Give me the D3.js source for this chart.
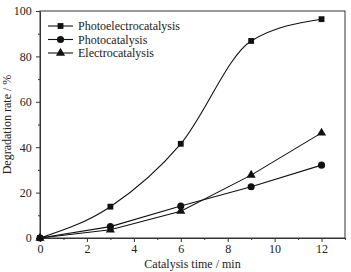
<!DOCTYPE html>
<html>
<head>
<meta charset="utf-8">
<script src="https://cdn.jsdelivr.net/npm/d3@7"></script>
<style>
  body { margin: 0; background: #fff; }
  text { font-family: "Liberation Serif", "DejaVu Serif", serif; fill: #222; }
</style>
</head>
<body>
<div id="wrapper"></div>
<script>
// data
const times = [0, 3, 6, 9, 12]
const photoelectro = [0, 13.8, 41.5, 86.8, 96.4]
const photo = [0, 5.0, 14.1, 22.6, 32.1]
const electro = [0, 3.6, 11.8, 27.7, 46.3]
const seriesNames = ["Photoelectrocatalysis", "Photocatalysis", "Electrocatalysis"]
const xTicks = [0, 2, 4, 6, 8, 10, 12]
const yTicks = [0, 20, 40, 60, 80, 100]

const dimensions = {
  width: 351,
  height: 272,
  margin: { top: 11, right: 6, bottom: 34, left: 40 },
}
dimensions.boundedWidth = dimensions.width - dimensions.margin.left - dimensions.margin.right
dimensions.boundedHeight = dimensions.height - dimensions.margin.top - dimensions.margin.bottom

const svg = d3.select("#wrapper").append("svg")
  .attr("width", dimensions.width)
  .attr("height", dimensions.height)

const bounds = svg.append("g")
  .attr("transform", `translate(${dimensions.margin.left},${dimensions.margin.top})`)

const xScale = d3.scaleLinear().domain([0, 13]).range([0, dimensions.boundedWidth])
const yScale = d3.scaleLinear().domain([0, 100]).range([dimensions.boundedHeight, 0])

// frame
bounds.append("rect")
  .attr("width", dimensions.boundedWidth)
  .attr("height", dimensions.boundedHeight)
  .attr("fill", "none")
  .attr("stroke", "#333")
  .attr("stroke-width", 1)

// axes
const xAxis = bounds.append("g")
  .attr("transform", `translate(0,${dimensions.boundedHeight})`)
  .call(d3.axisBottom(xScale).tickValues(xTicks).tickSize(4).tickPadding(2).tickSizeOuter(0))
const yAxis = bounds.append("g")
  .call(d3.axisLeft(yScale).tickValues(yTicks).tickSize(4).tickSizeOuter(0))

// minor ticks
bounds.append("g")
  .attr("transform", `translate(0,${dimensions.boundedHeight})`)
  .call(d3.axisBottom(xScale).tickValues([1, 3, 5, 7, 9, 11, 13]).tickSize(2).tickFormat("").tickSizeOuter(0))
  .select(".domain").remove()
bounds.append("g")
  .call(d3.axisLeft(yScale).tickValues([10, 30, 50, 70, 90]).tickSize(2).tickFormat("").tickSizeOuter(0))
  .select(".domain").remove()

bounds.selectAll(".domain").attr("stroke", "#333")
bounds.selectAll(".tick line").attr("stroke", "#333")
xAxis.selectAll("text").attr("font-size", 12)
yAxis.selectAll("text").attr("font-size", 12).attr("dx", "-0.1em")

// axis titles
svg.append("text")
  .attr("x", dimensions.margin.left + xScale(6.5))
  .attr("y", 268)
  .attr("text-anchor", "middle")
  .attr("font-size", 12)
  .text("Catalysis time / min")

svg.append("text")
  .attr("transform", `translate(11,${dimensions.margin.top + yScale(50)}) rotate(-90)`)
  .attr("text-anchor", "middle")
  .attr("font-size", 12)
  .text("Degradation rate / %")

// lines
const series = [
  { name: seriesNames[0], values: photoelectro, curve: d3.curveMonotoneX, symbol: d3.symbolSquare, size: 34 },
  { name: seriesNames[1], values: photo, curve: d3.curveLinear, symbol: d3.symbolCircle, size: 40 },
  { name: seriesNames[2], values: electro, curve: d3.curveLinear, symbol: d3.symbolTriangle, size: 36 },
]

series.forEach(function(s){
  const line = d3.line()
    .x(function(d, i){ return xScale(times[i]) })
    .y(function(d){ return yScale(d) })
    .curve(s.curve)
  bounds.append("path")
    .datum(s.values)
    .attr("d", line)
    .attr("fill", "none")
    .attr("stroke", "#111")
    .attr("stroke-width", 1.1)
  bounds.selectAll(null)
    .data(s.values)
    .join("path")
    .attr("d", d3.symbol().type(s.symbol).size(s.size))
    .attr("transform", function(d, i){ return `translate(${xScale(times[i])},${yScale(d)})` })
    .attr("fill", "#111")
})

// legend
const legend = svg.append("g").attr("transform", "translate(48,26)")
series.forEach(function(s, i){
  const row = legend.append("g").attr("transform", `translate(0,${i * 13.5})`)
  row.append("line").attr("x1", 0).attr("x2", 25).attr("stroke", "#111").attr("stroke-width", 1.1)
  row.append("path")
    .attr("d", d3.symbol().type(s.symbol).size(s.size))
    .attr("transform", "translate(12.5,0)")
    .attr("fill", "#111")
  row.append("text")
    .attr("x", 30)
    .attr("dy", "0.35em")
    .attr("font-size", 12)
    .text(s.name)
})
</script>
</body>
</html>
